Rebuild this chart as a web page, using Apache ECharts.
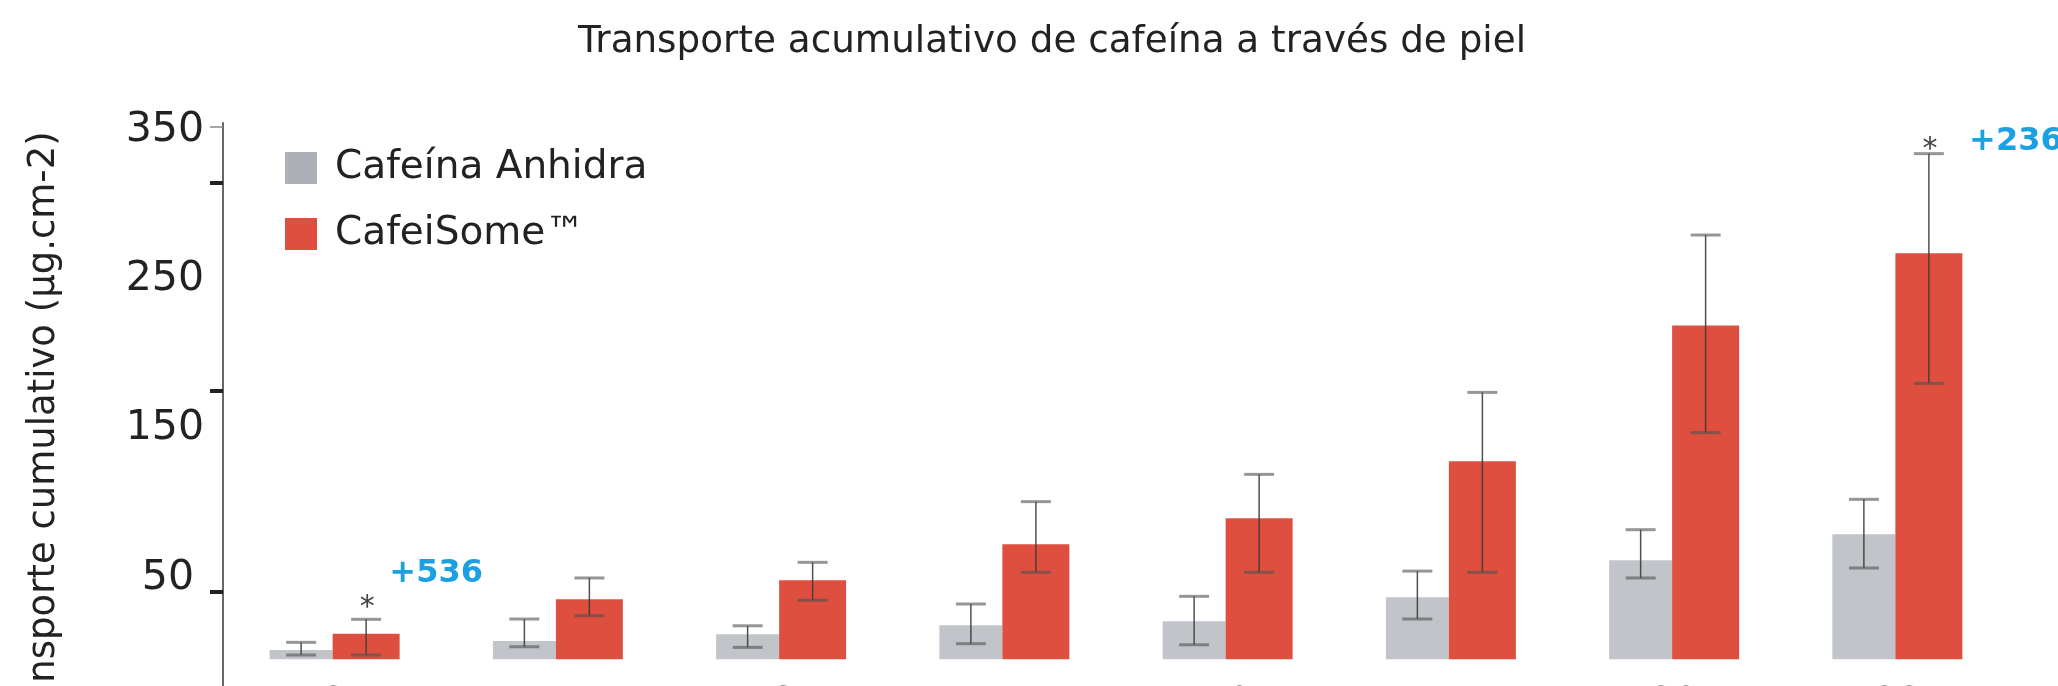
<!DOCTYPE html>
<html>
<head>
<meta charset="utf-8">
<script src="https://cdn.jsdelivr.net/npm/echarts@6/dist/echarts.min.js"></script>
<style>
html,body{margin:0;padding:0;background:#fff;}
#chart{width:2058px;height:686px;}
</style>
</head>
<body>
<div id="chart"></div>
<script>
// ---- data ----
const categories = ['2', '4', '6', '7', '10', '14', '20', '28'];
const anhidraValues   = [6.1, 11.9, 16.3, 22.2, 24.8, 40.5, 64.6, 81.6];
const anhidraErrLow   = [2.8, 8.2, 7.8, 10.2, 9.5, 26.3, 53.1, 59.6];
const anhidraErrHigh  = [11.1, 26.3, 21.9, 36.1, 41.1, 57.6, 84.6, 104.4];
const cafeisomeValues  = [16.7, 39.2, 51.6, 75.1, 92.0, 129.2, 217.8, 265.0];
const cafeisomeErrLow  = [2.8, 28.5, 38.5, 56.8, 56.8, 56.8, 147.9, 180.1];
const cafeisomeErrHigh = [26.1, 53.1, 63.3, 102.9, 120.7, 174.2, 276.9, 330.0];
const yLabelValues = [50, 150, 250, 350];
const yMajorTickValues = [44.2, 175.1, 311.2];
const yMinorTickValues = [347.4];
const yMin = -17.4;
const yMax = 350;
// the printed tick labels in the source sit on a slightly different scale
const yLabelAxisMin = -22.2;
const yLabelAxisMax = 354.6;
const starMarks = [{ cat: 0, value: 38.0 }, { cat: 7, value: 336.7 }];
const pctMarks = [{ cat: 0, value: 56.1, text: '+536' }, { cat: 7, value: 337.8, text: '+236' }];
const seriesNames = ['Cafeína Anhidra', 'CafeiSome™'];
const titleText = 'Transporte acumulativo de cafeína a través de piel';
const yAxisName = 'Transporte cumulativo (µg.cm-2)';

// ---- style ----
const FONT = 'DejaVu Sans';
const grayBarW = 63, redBarW = 67;
const grayOffset = -(grayBarW + redBarW) / 2 + grayBarW / 2;
const redOffset = -(grayBarW + redBarW) / 2 + grayBarW + redBarW / 2;
const capHalf = 15;

function errRender(offset) {
  return function (params, api) {
    const i = api.value(0);
    const lo = api.coord([i, api.value(1)]);
    const hi = api.coord([i, api.value(2)]);
    const x = lo[0] + offset;
    const capStyle = { stroke: 'rgba(80,80,80,0.6)', lineWidth: 3 };
    return {
      type: 'group',
      children: [
        { type: 'line', shape: { x1: x, y1: lo[1], x2: x, y2: hi[1] }, style: { stroke: 'rgba(60,60,60,0.9)', lineWidth: 1.5 } },
        { type: 'line', shape: { x1: x - capHalf, y1: hi[1], x2: x + capHalf, y2: hi[1] }, style: capStyle },
        { type: 'line', shape: { x1: x - capHalf, y1: lo[1], x2: x + capHalf, y2: lo[1] }, style: capStyle }
      ]
    };
  };
}

// markPoints of a bar series are anchored at the bar's centre
const markData = starMarks.map(s => ({
  coord: [s.cat, s.value],
  label: { formatter: '*', offset: [1, 7], color: '#444', fontSize: 30, fontFamily: FONT }
})).concat(pctMarks.map(p => ({
  coord: [p.cat, p.value],
  label: { formatter: p.text, offset: [p.cat === 0 ? 70 : 87, 0], color: '#1ba1e2', fontSize: 32, fontWeight: 'bold', fontFamily: FONT }
})));

const chart = echarts.init(document.getElementById('chart'), null, { renderer: 'canvas' });
chart.setOption({
  backgroundColor: '#ffffff',
  animation: false,
  title: {
    text: titleText,
    left: 1047,
    textAlign: 'center',
    top: 19,
    textStyle: { fontFamily: FONT, fontSize: 37.3, fontWeight: 'normal', color: '#222' }
  },
  legend: {
    orient: 'vertical',
    left: 285,
    top: 148,
    padding: 0,
    itemWidth: 32,
    itemHeight: 32,
    itemGap: 26,
    icon: 'rect',
    textStyle: { fontFamily: FONT, fontSize: 39, color: '#222', lineHeight: 40, padding: [0, 0, 0, 13] },
    data: [
      { name: seriesNames[0], itemStyle: { color: '#adb0b6' } },
      { name: seriesNames[1], itemStyle: { color: '#de4f3f' } }
    ]
  },
  grid: { left: 223, right: 49, top: 123, bottom: 0, containLabel: false, outerBoundsMode: 'none' },
  xAxis: {
    type: 'category',
    data: categories,
    axisLine: { show: false },
    axisTick: { show: false },
    axisLabel: { margin: -1, fontFamily: FONT, fontSize: 37, color: '#222' }
  },
  yAxis: [
    {
      type: 'value',
      min: yMin, max: yMax,
      position: 'left',
      name: yAxisName,
      nameLocation: 'middle',
      nameGap: 160,
      nameRotate: 90,
      nameTextStyle: { fontFamily: FONT, fontSize: 37, color: '#222', padding: [0, 60, 0, 0] },
      splitLine: { show: false },
      axisLine: { show: true, lineStyle: { color: '#666', width: 2 } },
      axisTick: { show: true, length: 13, customValues: yMajorTickValues, lineStyle: { color: '#222', width: 4 } },
      axisLabel: { show: false }
    },
    {
      type: 'value',
      min: yMin, max: yMax,
      position: 'left',
      splitLine: { show: false },
      axisLine: { show: false },
      axisLabel: { show: false },
      axisTick: { show: true, length: 13, customValues: yMinorTickValues, lineStyle: { color: '#888', width: 1.5 } }
    },
    {
      type: 'value',
      min: yLabelAxisMin, max: yLabelAxisMax,
      position: 'left',
      splitLine: { show: false },
      axisLine: { show: false },
      axisTick: { show: false },
      axisLabel: {
        customValues: yLabelValues, margin: 19, fontFamily: FONT, fontSize: 41, color: '#222',
        formatter: v => (String(v).length < 3 ? '{s|' + v + '}' : String(v)),
        rich: { s: { fontFamily: FONT, fontSize: 41, color: '#222', padding: [0, 10, 0, 0] } }
      }
    }
  ],
  series: [
    {
      name: seriesNames[0], type: 'bar', yAxisIndex: 0,
      data: anhidraValues, barWidth: grayBarW, barGap: '0%',
      itemStyle: { color: '#c1c5ca' }
    },
    {
      name: seriesNames[1], type: 'bar', yAxisIndex: 0,
      data: cafeisomeValues, barWidth: redBarW, barGap: '0%',
      itemStyle: { color: '#de4f3f' },
      markPoint: { symbol: 'circle', symbolSize: 0, silent: true, label: { show: true, position: 'inside' }, data: markData }
    },
    {
      type: 'custom', yAxisIndex: 0, z: 5,
      renderItem: errRender(grayOffset),
      data: categories.map((c, i) => [i, anhidraErrLow[i], anhidraErrHigh[i]])
    },
    {
      type: 'custom', yAxisIndex: 0, z: 5,
      renderItem: errRender(redOffset),
      data: categories.map((c, i) => [i, cafeisomeErrLow[i], cafeisomeErrHigh[i]])
    }
  ]
});
</script>
</body>
</html>
